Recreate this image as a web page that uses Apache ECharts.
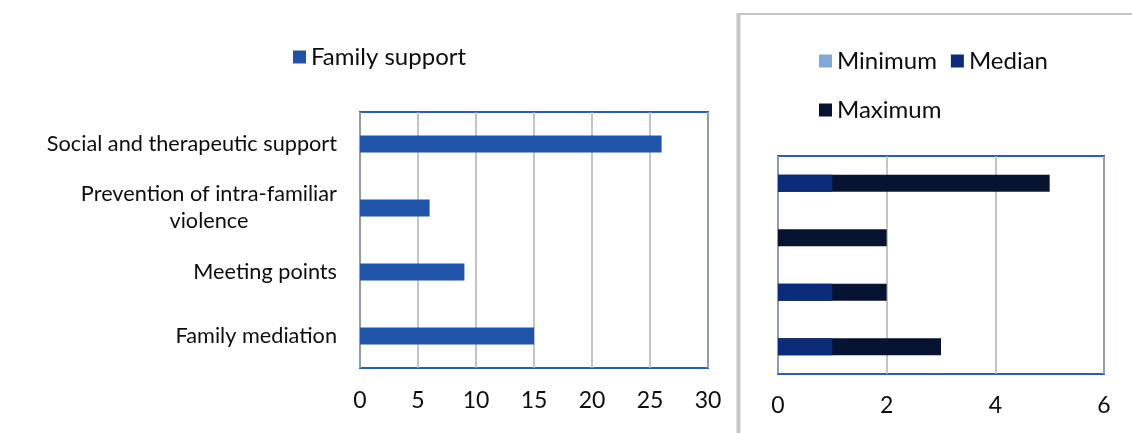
<!DOCTYPE html>
<html>
<head>
<meta charset="utf-8">
<script src="https://cdn.jsdelivr.net/npm/echarts@6/dist/echarts.min.js"></script>
<style>
html,body{margin:0;padding:0;background:#fff;}
#chart{width:1132px;height:433px;}
</style>
</head>
<body>
<div id="chart"></div>
<script>
// ---- data ----
const categories = ['Social and therapeutic support', 'Prevention of intra-familiar violence', 'Meeting points', 'Family mediation'];
const categoryLabels = ['Social and therapeutic support', 'Prevention of intra-familiar\nviolence', 'Meeting points', 'Family mediation'];
const familySupport = [26, 6, 9, 15];
const minimumValues = [0, 0, 0, 0];
const medianValues = [1, 0, 1, 1];
const maximumValues = [5, 2, 2, 3];
const leftAxisRange = [0, 30, 5];
const rightAxisRange = [0, 6, 2];

const FONT = 'Lato';
const TXT = '#0d0d0d';
const GRIDC = '#b0b0b0';
const BORDER = '#2a5cbc';

const chart = echarts.init(document.getElementById('chart'));
const option = {
  backgroundColor: '#fff',
  animation: false,
  textStyle: { fontFamily: FONT },
  legend: [
    { data: ['Family support'], left: 288, top: 38, itemWidth: 13, itemHeight: 13, icon: 'rect',
      textStyle: { fontFamily: FONT, fontSize: 24, color: TXT, lineHeight: 28 } },
    { data: ['Minimum', 'Median'], left: 814, top: 42, itemWidth: 13, itemHeight: 13, icon: 'rect', itemGap: 14,
      textStyle: { fontFamily: FONT, fontSize: 24, color: TXT, lineHeight: 28 } },
    { data: ['Maximum'], left: 814, top: 91, itemWidth: 13, itemHeight: 13, icon: 'rect',
      textStyle: { fontFamily: FONT, fontSize: 24, color: TXT, lineHeight: 28 } }
  ],
  grid: [
    { left: 360, top: 112, width: 348, height: 256, show: true, borderColor: BORDER, borderWidth: 2, backgroundColor: 'transparent' },
    { left: 778, top: 156, width: 326, height: 218, show: true, borderColor: BORDER, borderWidth: 2, backgroundColor: 'transparent' }
  ],
  xAxis: [
    { type: 'value', gridIndex: 0, min: leftAxisRange[0], max: leftAxisRange[1], interval: leftAxisRange[2],
      axisLine: { show: false }, axisTick: { show: false },
      splitLine: { show: true, lineStyle: { color: GRIDC, width: 1.5 } },
      axisLabel: { fontFamily: FONT, fontSize: 23, color: TXT, margin: 21 } },
    { type: 'value', gridIndex: 1, min: rightAxisRange[0], max: rightAxisRange[1], interval: rightAxisRange[2],
      axisLine: { show: false }, axisTick: { show: false },
      splitLine: { show: true, lineStyle: { color: GRIDC, width: 1.5 } },
      axisLabel: { fontFamily: FONT, fontSize: 23, color: TXT, margin: 20 } }
  ],
  yAxis: [
    { type: 'category', gridIndex: 0, data: categories, inverse: true,
      axisLine: { show: false }, axisTick: { show: false },
      axisLabel: { margin: 23, align: 'right',
        formatter: function (v, i) { return categoryLabels[i].split('\n').map(function (l) { return '{c|' + l + '}'; }).join('\n'); },
        rich: { c: { fontFamily: FONT, fontSize: 21.7, color: TXT, align: 'center', lineHeight: 27 } } } },
    { type: 'category', gridIndex: 1, data: categories, inverse: true,
      axisLine: { show: false }, axisTick: { show: false }, axisLabel: { show: false } }
  ],
  series: [
    { name: 'Family support', type: 'bar', xAxisIndex: 0, yAxisIndex: 0, data: familySupport, barWidth: 17,
      itemStyle: { color: '#1f54a9' } },
    { name: 'Maximum', type: 'bar', xAxisIndex: 1, yAxisIndex: 1, data: maximumValues, barWidth: 17, barGap: '-100%', z: 2,
      itemStyle: { color: '#061432' } },
    { name: 'Median', type: 'bar', xAxisIndex: 1, yAxisIndex: 1, data: medianValues, barWidth: 17, barGap: '-100%', z: 3,
      itemStyle: { color: '#0b2c79' } },
    { name: 'Minimum', type: 'bar', xAxisIndex: 1, yAxisIndex: 1, data: minimumValues, barWidth: 17, barGap: '-100%', z: 4,
      itemStyle: { color: '#7ea9d9' } }
  ],
  graphic: [
    { type: 'line', shape: { x1: 738.5, y1: 13, x2: 738.5, y2: 433 }, style: { stroke: '#c6c6c6', lineWidth: 4 } },
    { type: 'line', shape: { x1: 740, y1: 14, x2: 1132, y2: 14 }, style: { stroke: '#c6c6c6', lineWidth: 2 } }
  ]
};
chart.setOption(option);
</script>
</body>
</html>
